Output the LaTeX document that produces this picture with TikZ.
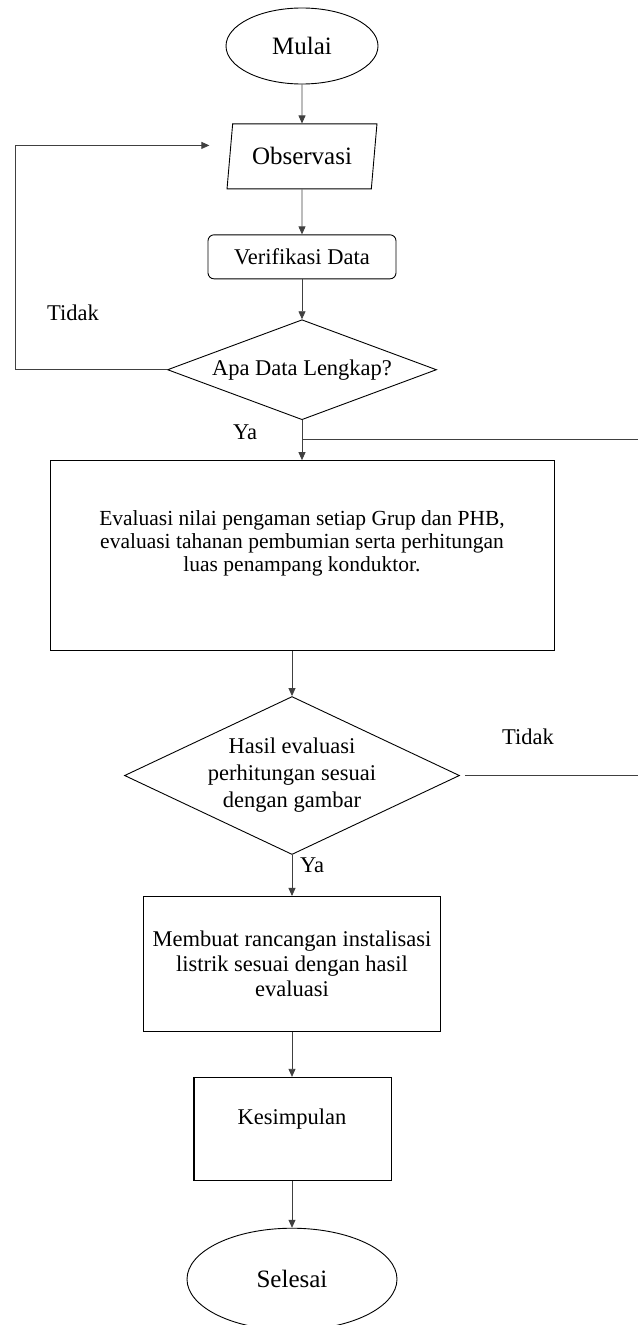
\documentclass[tikz,border=0pt]{standalone}
\usepackage{fontspec}
\setmainfont{Liberation Serif}
\usetikzlibrary{arrows.meta,positioning,shapes.geometric,calc}

\begin{document}
\begin{tikzpicture}[x=1pt, y=1pt, every node/.style={font=\fontsize{22.5}{25}\selectfont},
    box/.style={draw, line width=0.9pt, inner sep=0pt},
    arr/.style={draw=black!75, line width=0.8pt, -{Triangle[length=8pt,width=7pt]}},
    link/.style={draw=black!75, line width=0.8pt},
    big/.style={font=\fontsize{25}{27}\selectfont}]
    \useasboundingbox (0,0) rectangle (638,-1325);
    \node (mulai) [box, ellipse, big, minimum width=152pt, minimum height=76pt] at (302,-46) {Mulai};
    \node (obs) [box, trapezium, big, trapezium left angle=77, trapezium right angle=103, trapezium stretches=true, minimum width=150pt, minimum height=65pt, below=39pt of mulai] {Observasi};
    \node (verif) [box, rounded corners=6pt, minimum width=188pt, minimum height=44pt, below=45pt of obs] {Verifikasi Data};
    \node (dec1) [box, diamond, aspect=2.69, minimum width=269pt, minimum height=100pt, below=40pt of verif] {Apa Data Lengkap?};
    \node (eval) [box, minimum width=504pt, minimum height=190pt, align=center, text depth=29pt, font=\fontsize{21.5}{23}\selectfont, below=40pt of dec1] {Evaluasi nilai pengaman setiap Grup dan PHB,\\evaluasi tahanan pembumian serta perhitungan\\luas penampang konduktor.};
    \node (dec2) [box, diamond, aspect=2.12, minimum width=335pt, minimum height=158pt, align=center, font=\fontsize{22.5}{27}\selectfont, below=45pt of eval, xshift=-10pt] {Hasil evaluasi\\perhitungan sesuai\\dengan gambar};
    \node (buat) [box, minimum width=297pt, minimum height=135pt, align=center, below=41pt of dec2] {Membuat rancangan instalisasi\\listrik sesuai dengan hasil\\evaluasi};
    \node (kes) [box, minimum width=198pt, minimum height=103pt, text depth=25pt, below=45pt of buat] {Kesimpulan};
    \node (selesai) [box, ellipse, big, minimum width=210pt, minimum height=102pt, below=47pt of kes] {Selesai};
    \draw[line width=0.9pt] ([xshift=2pt]kes.north west) -- ([xshift=2pt]kes.south west);
    \node (tidak1) at (73,-313) {Tidak};
    \node (ya1) at (245,-432) {Ya};
    \node (tidak2) at (528,-737) {Tidak};
    \node (ya2) at (312,-865) {Ya};
    \coordinate (edge) at (638,0);
    \coordinate (cabang) at ([yshift=-19pt]dec1.south);
    \draw[arr] (mulai) -- (obs);
    \draw[arr] (obs) -- (verif);
    \draw[arr] (verif) -- (dec1);
    \draw[arr] (dec1) -- (eval);
    \draw[arr] (dec1.west) -- ++(-152,0) |- ([xshift=-20pt,yshift=11pt]obs.west);
    \draw[link] (cabang) -- (cabang -| edge);
    \draw[arr] (eval.south -| dec2.north) -- (dec2.north);
    \draw[link] ([xshift=5pt]dec2.east) -- (dec2.east -| edge);
    \draw[arr] (dec2) -- (buat);
    \draw[arr] (buat) -- (kes);
    \draw[arr] (kes) -- (selesai);
  \end{tikzpicture}
\end{document}
